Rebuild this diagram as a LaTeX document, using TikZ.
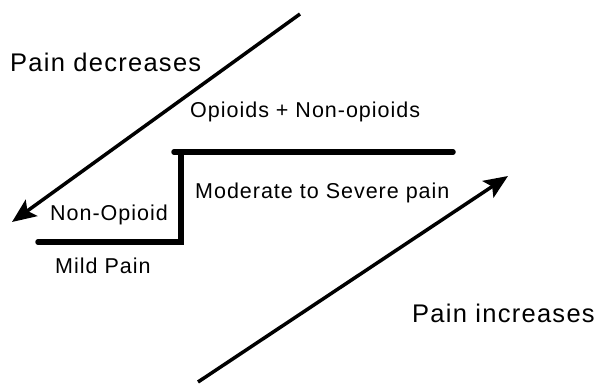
\documentclass[tikz,border=0pt]{standalone}
\usepackage{fontspec}
\setmainfont{Liberation Sans}
\usetikzlibrary{arrows.meta}
\tikzset{
  lbl/.style={anchor=base west, inner sep=0pt, font=\fontsize{21.5}{26}\selectfont\addfontfeatures{LetterSpace=4.6}},
  biglbl/.style={anchor=base west, inner sep=0pt, font=\fontsize{25.5}{31}\selectfont\addfontfeatures{LetterSpace=5}},
  steplinestyle/.style={line width=5.5pt, line cap=round, line join=miter},
  arr/.style={line width=3.5pt, -{Stealth[length=24pt,width=20pt,inset=5pt]}}
}
\begin{document}
\begin{tikzpicture}[x=1pt,y=-1pt]
\useasboundingbox (0,0) rectangle (597,383);
% coordinates
\coordinate (dA) at (300,14);
\coordinate (dB) at (12,222);
\coordinate (iA) at (198,382);
\coordinate (iB) at (508,176);
\coordinate (s1) at (38,242);
\coordinate (s2) at (181,242);
\coordinate (s3) at (181,152);
\coordinate (s4) at (174,152);
\coordinate (s5) at (453,152);
% arrows
\draw[arr] (dA) -- (dB);
\draw[arr] (iA) -- (iB);
% step
\draw[steplinestyle] (s1) -- (s2) -- (s3);
\draw[steplinestyle] (s4) -- (s5);
% labels
\node[biglbl] (pd) at (10,71) {Pain decreases};
\node[lbl] (op) at (190,117) {Opioids + Non-opioids};
\node[lbl] (ms) at (195,198) {Moderate to Severe pain};
\node[lbl] (no) at (50,220) {Non-Opioid};
\node[lbl] (mp) at (55,273) {Mild Pain};
\node[biglbl] (pi) at (412,322) {Pain increases};
\end{tikzpicture}
\end{document}
